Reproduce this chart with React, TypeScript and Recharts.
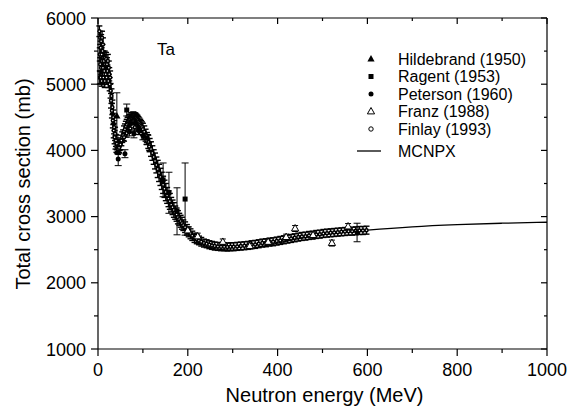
import React from 'react';
import { ComposedChart, XAxis, YAxis, Scatter, Line, ErrorBar } from 'recharts';

const FONT = '"Liberation Sans", Arial, Helvetica, sans-serif';
const W = 571;
const H = 398;

const xTicks = [0, 100, 200, 300, 400, 500, 600, 700, 800, 900, 1000];
const yTicks = [1000, 1500, 2000, 2500, 3000, 3500, 4000, 4500, 5000, 5500, 6000];

// [energy MeV, cross section mb, error mb]
const finlayRaw = [
  [3, 5800, 80], [4, 5450, 100], [4, 5100, 100], [5, 5700, 100], [5, 5300, 100], [6, 5550, 100],
  [6, 5100, 90], [7, 5650, 100], [7, 5250, 100], [8, 5450, 100], [8, 5050, 80], [9, 5700, 100],
  [9, 5350, 100], [10, 5500, 100], [10, 5150, 100], [11, 5600, 100], [11, 5250, 90], [12, 5400, 100],
  [12, 5100, 100], [13, 5350, 90], [13, 5150, 90], [14, 5200, 100], [15, 5400, 100], [15, 5050, 100],
  [16, 5300, 90], [17, 5150, 100], [18, 5380, 100], [19, 5100, 100], [20, 5300, 100], [21, 5200, 90],
  [22, 5350, 100], [23, 5050, 100], [24, 5250, 100], [25, 5150, 100], [26, 5000, 100], [27, 5100, 100],
  [28, 4900, 110], [29, 4750, 110], [30, 4820, 110], [31, 4600, 110], [32, 4650, 110], [33, 4450, 110],
  [34, 4500, 110], [35, 4300, 110], [36, 4350, 100], [37, 4200, 100], [38, 4250, 100], [39, 4120, 100],
  [40, 4150, 90], [41, 4060, 90], [42, 4100, 90], [43, 4030, 80], [44, 4060, 80], [45, 4020, 80],
  [46, 4050, 80], [47, 4040, 80], [48, 4080, 80], [50, 4090, 80], [52, 4150, 80], [54, 4200, 80],
  [56, 4230, 80], [58, 4290, 80], [60, 4320, 80], [62, 4360, 80], [64, 4390, 80], [66, 4420, 80],
  [68, 4440, 80], [70, 4460, 80], [72, 4470, 80], [74, 4490, 80], [76, 4490, 80], [78, 4500, 80],
  [80, 4495, 80], [82, 4490, 80], [84, 4480, 80], [86, 4465, 80], [88, 4450, 80], [90, 4430, 80],
  [92, 4410, 80], [94, 4390, 80], [96, 4370, 80], [98, 4350, 80], [100, 4320, 90], [103, 4280, 90],
  [106, 4230, 90], [109, 4180, 90], [112, 4130, 100], [115, 4080, 100], [118, 4020, 110], [121, 3960, 110],
  [124, 3900, 110], [127, 3840, 120], [130, 3780, 120], [133, 3720, 130], [136, 3660, 130], [139, 3600, 130],
  [142, 3540, 130], [145, 3480, 130], [148, 3420, 130], [151, 3370, 130], [154, 3320, 120], [157, 3270, 120],
  [160, 3230, 120], [163, 3180, 110], [166, 3140, 110], [169, 3100, 110], [172, 3060, 100], [175, 3030, 100],
  [178, 2990, 100], [181, 2960, 90], [184, 2930, 90], [187, 2900, 90], [190, 2870, 80], [194, 2840, 80],
  [198, 2800, 80], [202, 2770, 75], [206, 2740, 75], [210, 2710, 70], [215, 2680, 70], [220, 2660, 70],
  [225, 2640, 65], [230, 2620, 65], [236, 2600, 60], [242, 2590, 60], [248, 2575, 60], [254, 2565, 60],
  [260, 2555, 60], [267, 2550, 60], [274, 2545, 60], [281, 2545, 60], [288, 2540, 60], [295, 2545, 60],
  [302, 2545, 60], [310, 2550, 60], [318, 2555, 60], [326, 2560, 60], [334, 2565, 60], [342, 2575, 60],
  [350, 2580, 60], [358, 2590, 60], [366, 2600, 60], [374, 2605, 60], [382, 2615, 60], [390, 2620, 60],
  [398, 2630, 60], [406, 2640, 60], [414, 2650, 60], [422, 2660, 60], [430, 2670, 60], [438, 2680, 60],
  [446, 2690, 60], [454, 2700, 60], [462, 2705, 60], [470, 2715, 60], [478, 2720, 60], [486, 2730, 60],
  [494, 2735, 60], [502, 2745, 60], [510, 2750, 60], [518, 2755, 60], [526, 2760, 60], [534, 2765, 60],
  [542, 2770, 60], [550, 2775, 60], [558, 2780, 60], [566, 2780, 60], [574, 2785, 60], [582, 2790, 60],
  [590, 2790, 60], [598, 2795, 60],
  // lower scatter under the bump
  [58, 4200, 60], [64, 4260, 60], [72, 4330, 60], [82, 4350, 60], [92, 4300, 60], [102, 4230, 60],
  [108, 4150, 60], [114, 4060, 60],
];

const franzRaw = [
  [200, 2790, 50], [222, 2700, 50], [278, 2617, 45], [338, 2555, 45], [379, 2617, 45],
  [419, 2690, 45], [439, 2820, 45], [479, 2720, 45], [521, 2600, 45], [557, 2850, 45],
];

const ragentRaw = [
  [64, 4610, 90], [145, 3555, 255], [158, 3360, 310], [176, 3080, 355], [194, 3265, 545],
];

const petersonRaw = [
  [45, 3870, 100], [60, 3950, 60], [70, 4280, 60], [80, 4250, 60], [90, 4300, 60],
  [100, 4220, 60], [110, 4180, 60], [577, 2760, 140],
];

const hildebrandRaw = [
  [42, 4520, 350], [84, 4420, 80],
];

const mcnpxRaw = [
  [20, 5350], [25, 5200], [30, 4900], [35, 4500], [40, 4200], [45, 4050], [50, 4040], [55, 4120],
  [60, 4240], [65, 4340], [70, 4420], [75, 4470], [80, 4490], [85, 4485], [90, 4460], [95, 4420],
  [100, 4360], [110, 4220], [120, 4050], [130, 3850], [140, 3640], [150, 3440], [160, 3250],
  [170, 3090], [180, 2950], [190, 2840], [200, 2750], [215, 2650], [230, 2580], [250, 2530],
  [275, 2500], [300, 2495], [325, 2505], [350, 2530], [400, 2600], [450, 2670], [500, 2725],
  [550, 2765], [600, 2795], [700, 2845], [800, 2878], [900, 2900], [1000, 2915],
];

const toPts = (rows: number[][]) => rows.map(([e, s, err]) => ({ e, s, err }));
const finlay = toPts(finlayRaw);
const franz = toPts(franzRaw);
const ragent = toPts(ragentRaw);
const peterson = toPts(petersonRaw);
const hildebrand = toPts(hildebrandRaw);
const mcnpx = mcnpxRaw.map(([e, s]) => ({ e, s }));

const BottomTick = (p: any) => {
  const { x, y, payload } = p;
  const major = payload.value % 200 === 0;
  return (
    <g>
      <line x1={x} y1={y} x2={x} y2={y + (major ? 7 : 4)} stroke="#000" strokeWidth={1.2} />
      {major && (
        <text x={x} y={y + 27} textAnchor="middle" fontSize={18} fill="#000" fontFamily={FONT}>
          {payload.value}
        </text>
      )}
    </g>
  );
};

const TopTick = (p: any) => {
  const { x, y, payload } = p;
  const major = payload.value % 200 === 0;
  return <line x1={x} y1={y} x2={x} y2={y + (major ? 6 : 3)} stroke="#000" strokeWidth={1.2} />;
};

const LeftTick = (p: any) => {
  const { x, y, payload } = p;
  const major = payload.value % 1000 === 0;
  return (
    <g>
      <line x1={x} y1={y} x2={x - (major ? 7 : 4)} y2={y} stroke="#000" strokeWidth={1.2} />
      {major && (
        <text x={x - 12} y={y + 6.5} textAnchor="end" fontSize={18} fill="#000" fontFamily={FONT}>
          {payload.value}
        </text>
      )}
    </g>
  );
};

const RightTick = (p: any) => {
  const { x, y, payload } = p;
  const major = payload.value % 1000 === 0;
  return <line x1={x} y1={y} x2={x - (major ? 6 : 3)} y2={y} stroke="#000" strokeWidth={1.2} />;
};

const triUp = (cx: number, cy: number, r: number) =>
  `M${cx},${cy - r} L${cx + r * 0.9},${cy + r * 0.6} L${cx - r * 0.9},${cy + r * 0.6} Z`;

const OpenCircle = (p: any) => <circle cx={p.cx} cy={p.cy} r={1.5} fill="#fff" stroke="#000" strokeWidth={1.5} />;
const FilledCircle = (p: any) => <circle cx={p.cx} cy={p.cy} r={2.5} fill="#000" />;
const FilledSquare = (p: any) => <rect x={p.cx - 2.5} y={p.cy - 2.5} width={5} height={5} fill="#000" />;
const OpenTri = (p: any) => <path d={triUp(p.cx, p.cy, 4)} fill="#fff" stroke="#000" strokeWidth={1} />;
const FilledTri = (p: any) => <path d={triUp(p.cx, p.cy, 4)} fill="#000" />;

const legendRows = [
  { name: 'Hildebrand (1950)', kind: 'ftri', y: 51 },
  { name: 'Ragent (1953)', kind: 'fsq', y: 68.5 },
  { name: 'Peterson (1960)', kind: 'fcirc', y: 86 },
  { name: 'Franz (1988)', kind: 'otri', y: 103.5 },
  { name: 'Finlay (1993)', kind: 'ocirc', y: 121 },
  { name: 'MCNPX', kind: 'line', y: 143 },
];

const LegendMark = ({ kind, x, y }: { kind: string; x: number; y: number }) => {
  if (kind === 'ftri') return <path d={triUp(x, y, 4)} fill="#000" />;
  if (kind === 'fsq') return <rect x={x - 2.5} y={y - 2.5} width={5} height={5} fill="#000" />;
  if (kind === 'fcirc') return <circle cx={x} cy={y} r={2.5} fill="#000" />;
  if (kind === 'otri') return <path d={triUp(x, y, 4)} fill="#fff" stroke="#000" strokeWidth={1} />;
  if (kind === 'ocirc') return <circle cx={x} cy={y} r={2.2} fill="#fff" stroke="#000" strokeWidth={1} />;
  return <line x1={x - 14} y1={y} x2={x + 10} y2={y} stroke="#000" strokeWidth={1.3} />;
};

export default function App() {
  return (
    <div style={{ position: 'relative', width: W, height: H }}>
      <ComposedChart width={W} height={H} margin={{ top: 0, right: 0, bottom: 0, left: 0 }}>
        <XAxis
          xAxisId="b"
          type="number"
          dataKey="e"
          domain={[0, 1000]}
          ticks={xTicks}
          allowDataOverflow
          height={57}
          tickSize={0}
          tickMargin={0}
          tickLine={false}
          axisLine={{ stroke: '#000', strokeWidth: 1.2 }}
          tick={<BottomTick />}
          interval={0}
        />
        <XAxis
          xAxisId="t"
          orientation="top"
          type="number"
          dataKey="e"
          domain={[0, 1000]}
          ticks={xTicks}
          allowDataOverflow
          height={10}
          tickSize={0}
          tickMargin={0}
          tickLine={false}
          axisLine={{ stroke: '#000', strokeWidth: 1.2 }}
          tick={<TopTick />}
          interval={0}
        />
        <YAxis
          yAxisId="l"
          type="number"
          dataKey="s"
          domain={[1000, 6000]}
          ticks={yTicks}
          allowDataOverflow
          width={90}
          tickSize={0}
          tickMargin={0}
          tickLine={false}
          axisLine={{ stroke: '#000', strokeWidth: 1.2 }}
          tick={<LeftTick />}
          interval={0}
        />
        <YAxis
          yAxisId="r"
          orientation="right"
          type="number"
          dataKey="s"
          domain={[1000, 6000]}
          ticks={yTicks}
          allowDataOverflow
          width={32}
          tickSize={0}
          tickMargin={0}
          tickLine={false}
          axisLine={{ stroke: '#000', strokeWidth: 1.2 }}
          tick={<RightTick />}
          interval={0}
        />
        <Line
          xAxisId="b"
          yAxisId="l"
          data={mcnpx}
          dataKey="s"
          type="monotone"
          stroke="#000"
          strokeWidth={1.3}
          dot={false}
          activeDot={false}
          isAnimationActive={false}
        />
        <Scatter xAxisId="b" yAxisId="l" data={finlay} dataKey="s" shape={<OpenCircle />} isAnimationActive={false}>
          <ErrorBar dataKey="err" direction="y" width={3} stroke="#000" strokeWidth={1.4} />
        </Scatter>
        <Scatter xAxisId="b" yAxisId="l" data={franz} dataKey="s" shape={<OpenTri />} isAnimationActive={false}>
          <ErrorBar dataKey="err" direction="y" width={3} stroke="#000" strokeWidth={1} />
        </Scatter>
        <Scatter xAxisId="b" yAxisId="l" data={peterson} dataKey="s" shape={<FilledCircle />} isAnimationActive={false}>
          <ErrorBar dataKey="err" direction="y" width={3.5} stroke="#000" strokeWidth={1} />
        </Scatter>
        <Scatter xAxisId="b" yAxisId="l" data={ragent} dataKey="s" shape={<FilledSquare />} isAnimationActive={false}>
          <ErrorBar dataKey="err" direction="y" width={3.5} stroke="#000" strokeWidth={1} />
        </Scatter>
        <Scatter xAxisId="b" yAxisId="l" data={hildebrand} dataKey="s" shape={<FilledTri />} isAnimationActive={false}>
          <ErrorBar dataKey="err" direction="y" width={3.5} stroke="#000" strokeWidth={1} />
        </Scatter>
      </ComposedChart>
      <svg
        width={W}
        height={H}
        style={{ position: 'absolute', left: 0, top: 0, overflow: 'visible', pointerEvents: 'none' }}
        fontFamily={FONT}
      >
        <text x={149} y={47} fontSize={17} fill="#000">Ta</text>
        {legendRows.map((r) => (
          <g key={r.name}>
            <LegendMark kind={r.kind} x={363} y={r.y} />
            <text x={390} y={r.y + 5.5} fontSize={16} fill="#000">{r.name}</text>
          </g>
        ))}
        <text x={316.5} y={394} fontSize={20} textAnchor="middle" fill="#000">Neutron energy (MeV)</text>
        <text x={22} y={176} fontSize={20} textAnchor="middle" fill="#000" transform="rotate(-90 22 176)">
          Total cross section (mb)
        </text>
      </svg>
    </div>
  );
}
